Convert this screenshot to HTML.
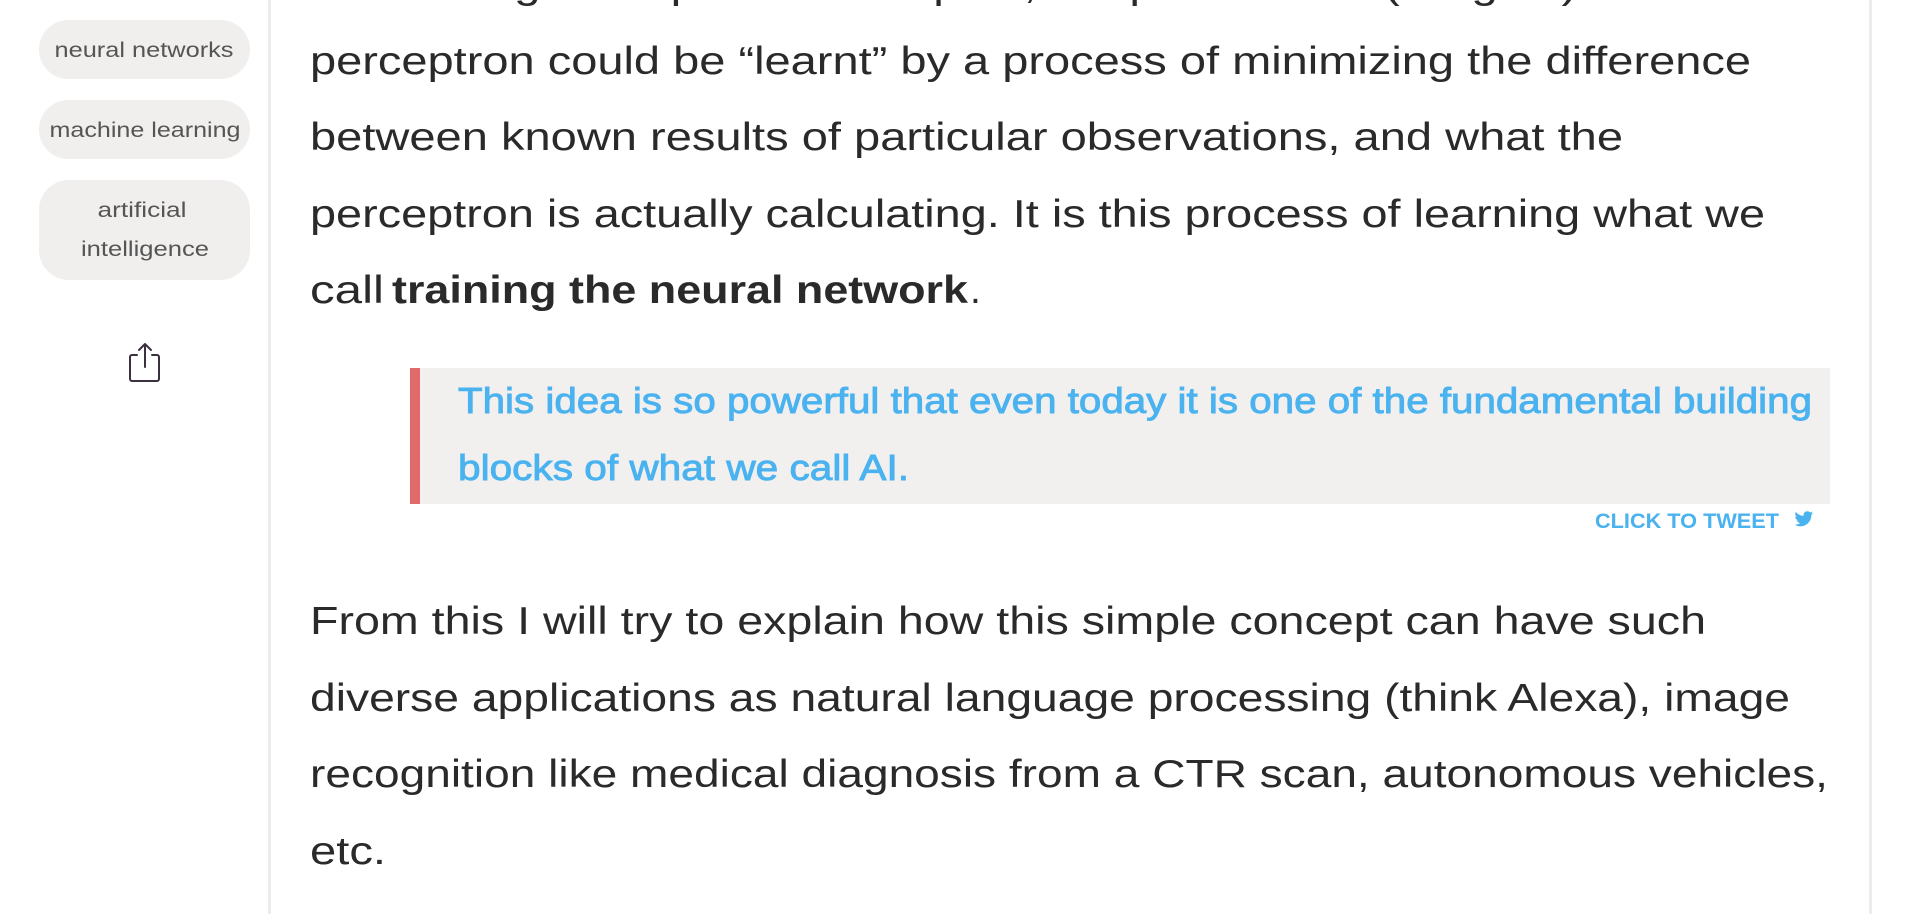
<!DOCTYPE html>
<html><head><meta charset="utf-8"><style>
html,body{margin:0;padding:0;background:#fff;width:1932px;height:914px;overflow:hidden}
svg{display:block}
.b{font-family:"Liberation Sans",sans-serif;font-size:39px;fill:#2a2a2a}
.t{font-family:"Liberation Sans",sans-serif;font-size:21px;fill:#555}
.q{font-family:"Liberation Sans",sans-serif;font-size:36px;fill:#4ab2ef;stroke:#4ab2ef;stroke-width:0.9}
</style></head><body>
<svg width="1932" height="914" viewBox="0 0 1932 914">
<rect x="268" y="0" width="3" height="914" fill="#ececec"/>
<rect x="1869" y="0" width="3" height="914" fill="#ececec"/>
<rect x="39" y="20" width="211" height="59" rx="29.5" fill="#f0efee"/>
<rect x="39" y="100" width="211" height="59" rx="29.5" fill="#f0efee"/>
<rect x="39" y="180" width="211" height="100" rx="30" fill="#f0efee"/>
<text class="t" x="144" y="57" text-anchor="middle" textLength="179" lengthAdjust="spacingAndGlyphs">neural networks</text>
<text class="t" x="145" y="137" text-anchor="middle" textLength="191" lengthAdjust="spacingAndGlyphs">machine learning</text>
<text class="t" x="142" y="217" text-anchor="middle" textLength="89" lengthAdjust="spacingAndGlyphs">artificial</text>
<text class="t" x="145" y="256" text-anchor="middle" textLength="128" lengthAdjust="spacingAndGlyphs">intelligence</text>
<g fill="none" stroke="#3a3040" stroke-width="2" stroke-linecap="round" stroke-linejoin="round">
<path d="M137 355 H132 a2 2 0 0 0 -2 2 V379 a2 2 0 0 0 2 2 H157 a2 2 0 0 0 2 -2 V357 a2 2 0 0 0 -2 -2 H152"/>
<path d="M145 367 V344 M139 350 L145 344 L151 350"/>
</g>
<text class="b" x="310" y="-2" textLength="1400" lengthAdjust="spacingAndGlyphs">of known good inputs and outputs, the parameters (weights) of the</text>
<text class="b" x="310" y="74" textLength="1441" lengthAdjust="spacingAndGlyphs">perceptron could be “learnt” by a process of minimizing the difference</text>
<text class="b" x="310" y="150" textLength="1313" lengthAdjust="spacingAndGlyphs">between known results of particular observations, and what the</text>
<text class="b" x="310" y="227" textLength="1455" lengthAdjust="spacingAndGlyphs">perceptron is actually calculating. It is this process of learning what we</text>
<text class="b" x="310" y="303" textLength="74" lengthAdjust="spacingAndGlyphs">call</text>
<text class="b" x="392" y="303" font-weight="bold" textLength="576" lengthAdjust="spacingAndGlyphs">training the neural network</text>
<text class="b" x="970" y="303">.</text>
<rect x="410" y="368" width="1420" height="136" fill="#f1f0ef"/>
<rect x="410" y="368" width="10" height="136" fill="#e06a6a"/>
<text class="q" x="458" y="413" textLength="1354" lengthAdjust="spacingAndGlyphs">This idea is so powerful that even today it is one of the fundamental building</text>
<text class="q" x="458" y="480" textLength="451" lengthAdjust="spacingAndGlyphs">blocks of what we call AI.</text>
<text x="1595" y="528" font-family="Liberation Sans,sans-serif" font-weight="bold" font-size="21" fill="#4ab2ef" textLength="184" lengthAdjust="spacingAndGlyphs">CLICK TO TWEET</text>
<path fill="#4ab2ef" d="M1813 513c-.7.3-1.4.5-2.2.6.8-.5 1.4-1.2 1.7-2.1-.7.4-1.6.7-2.4.9-.7-.8-1.7-1.2-2.8-1.2-2.1 0-3.8 1.7-3.8 3.8 0 .3 0 .6.1.9-3.2-.2-6-1.7-7.9-4-.3.6-.5 1.200-.5 1.9 0 1.3.7 2.5 1.7 3.2-.6 0-1.2-.2-1.700-.5 0 1.9 1.3 3.4 3.1 3.8-.3.1-.7.1-1 .1-.2 0-.5 0-.7-.1.5 1.5 1.9 2.6 3.6 2.7-1.3 1-3 1.7-4.8 1.7-.3 0-.6 0-.9-.1 1.7 1.1 3.7 1.7 5.9 1.7 7.1 0 10.9-5.9 10.9-10.9v-.5c.7-.5 1.4-1.2 1.9-2z"/>
<text class="b" x="310" y="634" textLength="1396" lengthAdjust="spacingAndGlyphs">From this I will try to explain how this simple concept can have such</text>
<text class="b" x="310" y="711" textLength="1480" lengthAdjust="spacingAndGlyphs">diverse applications as natural language processing (think Alexa), image</text>
<text class="b" x="310" y="787" textLength="1518" lengthAdjust="spacingAndGlyphs">recognition like medical diagnosis from a CTR scan, autonomous vehicles,</text>
<text class="b" x="310" y="864" textLength="76" lengthAdjust="spacingAndGlyphs">etc.</text>
</svg>
</body></html>
